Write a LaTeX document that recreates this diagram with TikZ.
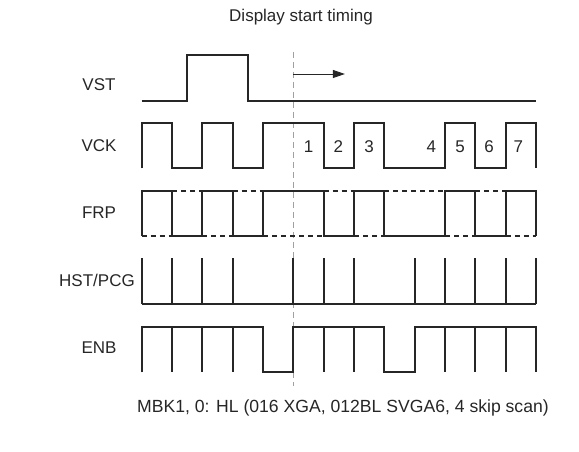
\documentclass[tikz,border=0pt]{standalone}
\usepackage{fontspec}
\setmainfont{Liberation Sans}
\usetikzlibrary{arrows.meta}
\definecolor{sig}{HTML}{262626}
\definecolor{guide}{HTML}{A0A0A0}
\tikzset{
  wave/.style={draw=sig, line width=1.9pt, line join=miter},
  cwave/.style={draw=sig, line width=1.9pt, dash pattern=on 5pt off 4pt},
  guideline/.style={draw=guide, line width=1.4pt, dash pattern=on 6pt off 4pt},
  lbl/.style={font=\fontsize{17}{20}\selectfont, text=sig, inner sep=0pt},
  num/.style={font=\fontsize{17}{20}\selectfont, text=sig, inner sep=0pt},
}
\begin{document}
\begin{tikzpicture}[x=1pt,y=-1pt]
\useasboundingbox (0,0) rectangle (579,452);
% labels
\node[lbl] (title) at (301,17) {Display start timing};
\node[lbl] (vst) at (99,85) {VST};
\node[lbl] (vck) at (99,146) {VCK};
\node[lbl] (frp) at (99,213) {FRP};
\node[lbl] (hst) at (97,280) {HST/PCG};
\node[lbl] (enb) at (99,348) {ENB};
\node[lbl, font=\fontsize{17.6}{20}\selectfont] (foot) at (343,408) {MBK1, 0: HL (016 XGA, 012BL SVGA6, 4 skip scan)};
\begin{scope}[xshift=141.7pt, x=30.33pt]
% guide line
\draw[guideline] (5,52) -- (5,386);
\coordinate (as) at (5,74);
\coordinate (ae) at (6.7,74);
\draw[draw=sig, line width=0.9pt, -{Triangle[length=12pt,width=8pt]}] (as) -- (ae);
% VST
\draw[wave] (0,101) -- (1.5,101) -- (1.5,55) -- (3.5,55) -- (3.5,101) -- (13,101);
% VCK
\draw[wave] (0,168.3) -- (0,123.3) -- (1,123.3) -- (1,168.3) -- (2,168.3) -- (2,123.3) -- (3,123.3) -- (3,168.3) -- (4,168.3) -- (4,123.3) -- (6,123.3) -- (6,168.3) -- (7,168.3) -- (7,123.3) -- (8,123.3) -- (8,168.3) -- (10,168.3) -- (10,123.3) -- (11,123.3) -- (11,168.3) -- (12,168.3) -- (12,123.3) -- (13,123.3) -- (13,168.3);
\foreach \n/\xx in {1/5.5,2/6.48,3/7.5,4/9.55,5/10.5,6/11.45,7/12.42}
  \node[num] (n\n) at (\xx,146.5) {\n};
% FRP
\draw[wave] (0,236) -- (0,190.7) -- (1,190.7) -- (1,236) -- (2,236) -- (2,190.7) -- (3,190.7) -- (3,236) -- (4,236) -- (4,190.7) -- (6,190.7) -- (6,236) -- (7,236) -- (7,190.7) -- (8,190.7) -- (8,236) -- (10,236) -- (10,190.7) -- (11,190.7) -- (11,236) -- (12,236) -- (12,190.7) -- (13,190.7) -- (13,236);
\draw[cwave] (0,236) -- (1,236) (2,236) -- (3,236) (4,236) -- (6,236) (7,236) -- (8,236) (10,236) -- (11,236) (12,236) -- (13,236);
\draw[cwave] (1,190.7) -- (2,190.7) (3,190.7) -- (4,190.7) (6,190.7) -- (7,190.7) (8,190.7) -- (10,190.7) (11,190.7) -- (12,190.7);
% HST/PCG
\draw[wave] (0,304) -- (13,304);
\foreach \k in {0,1,2,3,5,6,7,9,10,11,12,13}
  \draw[wave] (\k,258) -- (\k,304);
% ENB
\draw[wave] (0,372.3) -- (0,326.7) -- (4,326.7) -- (4,372.3) -- (5,372.3) -- (5,326.7) -- (8,326.7) -- (8,372.3) -- (9,372.3) -- (9,326.7) -- (13,326.7) -- (13,372.3);
\foreach \k in {1,2,3,6,7,10,11,12}
  \draw[wave] (\k,326.7) -- (\k,372.3);
\end{scope}
\end{tikzpicture}
\end{document}
